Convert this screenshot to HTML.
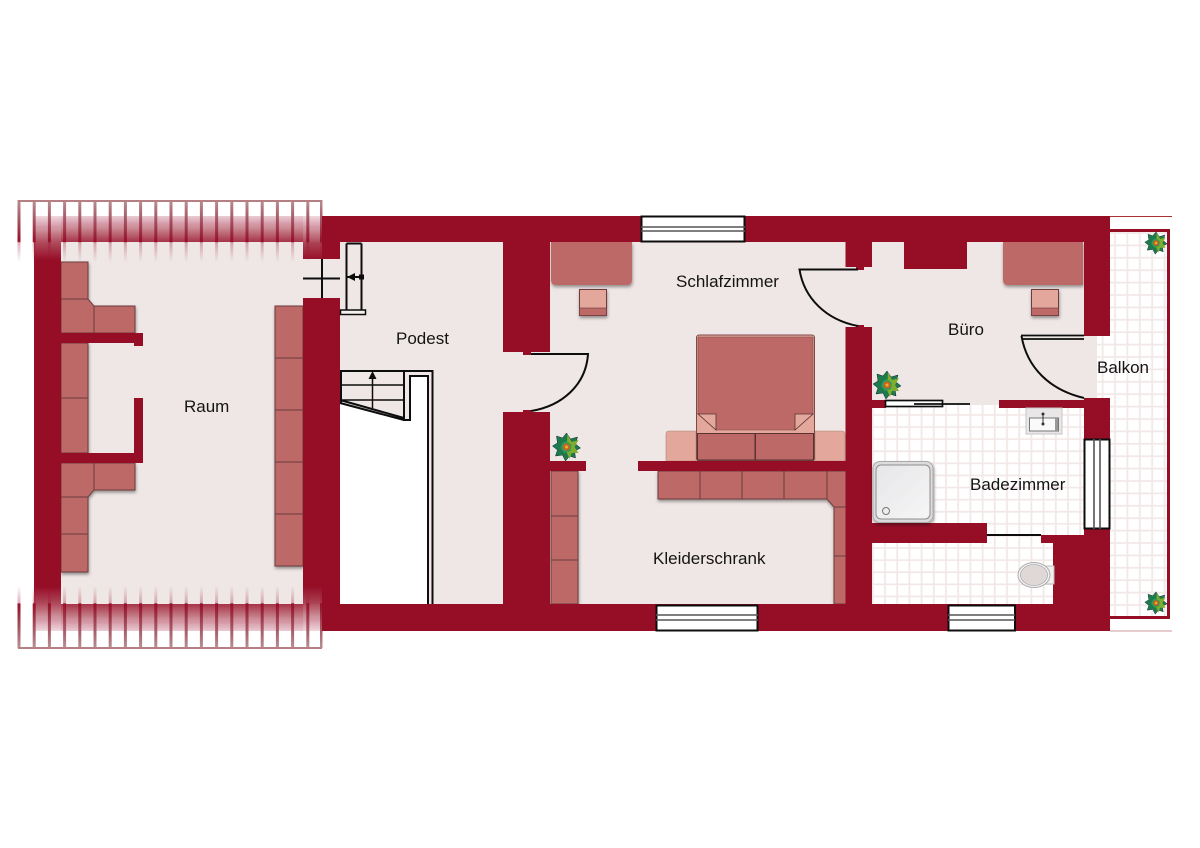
<!DOCTYPE html>
<html><head><meta charset="utf-8"><style>
html,body{margin:0;padding:0;background:#fff}
svg{display:block}
text{font-family:"Liberation Sans",sans-serif;font-size:17px;fill:#141414}
.c{fill:#bc6967;stroke:#6e3a3a;stroke-width:1}
.w{fill:#960f28}
.l{fill:none;stroke:#0c0c0c;stroke-width:2}
.win{fill:#fff;stroke:#0c0c0c;stroke-width:2}
.thin{stroke:#555;stroke-width:1.6;fill:none}
</style></head><body>
<svg width="1200" height="848" viewBox="0 0 1200 848" xmlns="http://www.w3.org/2000/svg">
<defs>
<pattern id="tile" x="0.500" y="-2.500" width="12.2" height="12.1" patternUnits="userSpaceOnUse">
<rect width="12.2" height="12.1" fill="#fff"/>
<path d="M0 6.050H12.2M6.100 0V12.1" stroke="#f2e8e7" stroke-width="1.800"/>
</pattern>
<pattern id="tileb" x="1108.800" y="226.800" width="12.4" height="12.4" patternUnits="userSpaceOnUse">
<rect width="12.4" height="12.4" fill="#fff"/>
<path d="M0 6.200H12.4M6.200 0V12.4" stroke="#f2e8e7" stroke-width="1.800"/>
</pattern>
<linearGradient id="bt" x1="0" y1="0" x2="0" y2="1"><stop offset="0" stop-color="#960f28" stop-opacity=".2"/><stop offset="1" stop-color="#960f28" stop-opacity=".85"/></linearGradient>
<linearGradient id="bb" x1="0" y1="1" x2="0" y2="0"><stop offset="0" stop-color="#960f28" stop-opacity=".2"/><stop offset="1" stop-color="#960f28" stop-opacity=".85"/></linearGradient>
<linearGradient id="ct" gradientUnits="userSpaceOnUse" x1="0" y1="216" x2="0" y2="260"><stop offset="0" stop-color="#960f28" stop-opacity=".15"/><stop offset=".59" stop-color="#960f28" stop-opacity=".75"/><stop offset="1" stop-color="#960f28"/></linearGradient>
<linearGradient id="cb" gradientUnits="userSpaceOnUse" x1="0" y1="631" x2="0" y2="587"><stop offset="0" stop-color="#960f28" stop-opacity=".15"/><stop offset=".61" stop-color="#960f28" stop-opacity=".75"/><stop offset="1" stop-color="#960f28"/></linearGradient>
<linearGradient id="st" gradientUnits="userSpaceOnUse" x1="0" y1="200" x2="0" y2="262"><stop offset="0" stop-color="#b89094"/><stop offset=".26" stop-color="#a8606c"/><stop offset=".67" stop-color="#960f28"/><stop offset=".69" stop-color="#960f28" stop-opacity=".3"/><stop offset="1" stop-color="#960f28" stop-opacity="0"/></linearGradient>
<linearGradient id="sb" gradientUnits="userSpaceOnUse" x1="0" y1="648" x2="0" y2="586"><stop offset="0" stop-color="#b89094"/><stop offset=".26" stop-color="#a8606c"/><stop offset=".71" stop-color="#960f28"/><stop offset=".73" stop-color="#960f28" stop-opacity=".3"/><stop offset="1" stop-color="#960f28" stop-opacity="0"/></linearGradient>
<linearGradient id="sh" x1="0" y1="0" x2="1" y2="1"><stop offset="0" stop-color="#e6e6e8"/><stop offset="1" stop-color="#f6f6f7"/></linearGradient>
<filter id="ds" x="-20%" y="-20%" width="140%" height="140%"><feDropShadow dx="0.5" dy="2" stdDeviation="1.6" flood-color="#000" flood-opacity=".4"/></filter>
<filter id="soft"><feGaussianBlur stdDeviation="0.28"/></filter>
<g id="plant">
<polygon points="0,-14 4,-8 11,-10 9,-3 14,1 8,4 9,11 3,9 -1,14 -4,8 -11,9 -9,3 -14,-1 -9,-4 -10,-11 -4,-9" fill="#1f7a4e" stroke="#123" stroke-width=".5"/>
<polygon points="1,-13 5,-5 12,-7 8,0 12,6 5,6 3,12 0,5" fill="#7fae2e"/>
<polygon points="0,-6 5,-2 4,4 -2,6 -6,1 -4,-4" fill="#2f9a5c"/>
<circle r="3.6" fill="#c8641e"/><circle r="1.5" fill="#e8b030"/>
</g>
</defs>
<rect width="1200" height="848" fill="#fff"/>
<g filter="url(#soft)">
<!-- floor -->
<rect x="61" y="242" width="1036" height="362" fill="#efe7e5"/>
<!-- tile -->
<rect x="1097" y="232" width="70" height="384" fill="url(#tileb)"/>
<rect x="872" y="405" width="212" height="130" fill="url(#tile)"/>
<rect x="872" y="535" width="181" height="69" fill="url(#tile)"/>
<rect x="970" y="400" width="29" height="4" fill="#efe7e5"/>
<!-- balcony frame -->
<path d="M1110 216.500H1172" stroke="#a33" stroke-width="1"/>
<path d="M1110 230.500H1168.500V617.500H1110" fill="none" stroke="#960f28" stroke-width="3"/>
<path d="M1110 631H1172" stroke="#c99" stroke-width="1"/>
<!-- roof fades -->
<rect x="61" y="216" width="242" height="26" fill="url(#bt)"/>
<rect x="61" y="604" width="242" height="27" fill="url(#bb)"/>
<rect x="34" y="216" width="27" height="44" fill="url(#ct)"/>
<rect x="303" y="216" width="19" height="43" fill="url(#ct)"/>
<rect x="34" y="587" width="27" height="44" fill="url(#cb)"/>
<rect x="303" y="587" width="19" height="44" fill="url(#cb)"/>
<!-- strips -->
<g fill="url(#st)">
<rect x="17.500" y="200" width="3" height="62"/><rect x="32.700" y="200" width="3" height="62"/><rect x="47.900" y="200" width="3" height="62"/><rect x="63.100" y="200" width="3" height="62"/><rect x="78.300" y="200" width="3" height="62"/><rect x="93.500" y="200" width="3" height="62"/><rect x="108.700" y="200" width="3" height="62"/><rect x="123.900" y="200" width="3" height="62"/><rect x="139.100" y="200" width="3" height="62"/><rect x="154.300" y="200" width="3" height="62"/><rect x="169.500" y="200" width="3" height="62"/><rect x="184.700" y="200" width="3" height="62"/><rect x="199.900" y="200" width="3" height="62"/><rect x="215.100" y="200" width="3" height="62"/><rect x="230.300" y="200" width="3" height="62"/><rect x="245.500" y="200" width="3" height="62"/><rect x="260.700" y="200" width="3" height="62"/><rect x="275.900" y="200" width="3" height="62"/><rect x="291.100" y="200" width="3" height="62"/><rect x="306.300" y="200" width="3" height="62"/><rect x="320" y="200" width="2.500" height="62"/>
</g>
<g fill="url(#sb)">
<rect x="17.500" y="586" width="3" height="62"/><rect x="32.700" y="586" width="3" height="62"/><rect x="47.900" y="586" width="3" height="62"/><rect x="63.100" y="586" width="3" height="62"/><rect x="78.300" y="586" width="3" height="62"/><rect x="93.500" y="586" width="3" height="62"/><rect x="108.700" y="586" width="3" height="62"/><rect x="123.900" y="586" width="3" height="62"/><rect x="139.100" y="586" width="3" height="62"/><rect x="154.300" y="586" width="3" height="62"/><rect x="169.500" y="586" width="3" height="62"/><rect x="184.700" y="586" width="3" height="62"/><rect x="199.900" y="586" width="3" height="62"/><rect x="215.100" y="586" width="3" height="62"/><rect x="230.300" y="586" width="3" height="62"/><rect x="245.500" y="586" width="3" height="62"/><rect x="260.700" y="586" width="3" height="62"/><rect x="275.900" y="586" width="3" height="62"/><rect x="291.100" y="586" width="3" height="62"/><rect x="306.300" y="586" width="3" height="62"/><rect x="320" y="586" width="2.500" height="62"/>
</g>
<rect x="18" y="200" width="304" height="2" fill="#b67f82"/>
<rect x="18" y="647" width="304" height="2" fill="#b67f82"/>
<!-- cabinets with shadow -->
<g filter="url(#ds)">
<rect class="c" x="61" y="262" width="27" height="37"/>
<polygon class="c" points="61,299 88,299 94,306 94,333 61,333"/>
<rect class="c" x="94" y="306" width="41" height="27"/>
<rect class="c" x="61" y="343" width="27" height="55"/>
<rect class="c" x="61" y="398" width="27" height="55"/>
<polygon class="c" points="61,463 94,463 94,490 88,497 61,497"/>
<rect class="c" x="94" y="463" width="41" height="27"/>
<rect class="c" x="61" y="497" width="27" height="37"/>
<rect class="c" x="61" y="534" width="27" height="38"/>
<rect class="c" x="275" y="306" width="28" height="52"/>
<rect class="c" x="275" y="358" width="28" height="52"/>
<rect class="c" x="275" y="410" width="28" height="52"/>
<rect class="c" x="275" y="462" width="28" height="52"/>
<rect class="c" x="275" y="514" width="28" height="52"/>
<rect class="c" x="551" y="471" width="27" height="45"/>
<rect class="c" x="551" y="516" width="27" height="44"/>
<rect class="c" x="551" y="560" width="27" height="44"/>
<rect class="c" x="658" y="471" width="42" height="28"/>
<rect class="c" x="700" y="471" width="42" height="28"/>
<rect class="c" x="742" y="471" width="42" height="28"/>
<rect class="c" x="784" y="471" width="43" height="28"/>
<polygon class="c" points="827,471 862,471 862,507 834,507 827,499"/>
<rect class="c" x="834" y="507" width="28" height="49"/>
<rect class="c" x="834" y="556" width="28" height="48"/>
<path d="M551 242H632V280Q632 285 627 285H556Q551 285 551 280Z" fill="#bc6967"/>
<path d="M1003 242H1083V285H1008Q1003 285 1003 280Z" fill="#bc6967"/>
<rect x="579.500" y="289.500" width="27" height="26" fill="#e3a79c" stroke="#6e3a3a"/>
<rect x="579.500" y="308" width="27" height="7.500" fill="#bc6967" stroke="#6e3a3a" stroke-width=".6"/>
<rect x="1031.500" y="289.500" width="27" height="26" fill="#e3a79c" stroke="#6e3a3a"/>
<rect x="1031.500" y="308" width="27" height="7.500" fill="#bc6967" stroke="#6e3a3a" stroke-width=".6"/>
</g>
<!-- bed -->
<path d="M666 461V434Q666 431 669 431H696V461Z" fill="#e3a79c" stroke="#a87" stroke-width=".6"/>
<path d="M845 461V434Q845 431 842 431H815V461Z" fill="#e3a79c" stroke="#a87" stroke-width=".6"/>
<rect x="696.500" y="335" width="118" height="126" rx="2.500" fill="#e3a79c" stroke="#7b4a46"/>
<polygon points="698,337 813,337 813,414 795,430 716,430 698,414" fill="#bc6967" stroke="#7b4a46" stroke-width=".6"/>
<polygon points="698,414 716,414 716,430" fill="#e3a79c" stroke="#5a3330" stroke-width=".8"/>
<polygon points="813,414 795,414 795,430" fill="#e3a79c" stroke="#5a3330" stroke-width=".8"/>
<rect x="697.500" y="433.500" width="57.500" height="26.500" fill="#bc6967" stroke="#5a3330"/>
<rect x="755.500" y="433.500" width="58" height="26.500" fill="#bc6967" stroke="#5a3330"/>
<!-- walls -->
<g class="w">
<rect x="322" y="216" width="788" height="26"/>
<rect x="322" y="604" width="788" height="27"/>
<rect x="34" y="260" width="27" height="327"/>
<rect x="322" y="242" width="18" height="17"/>
<rect x="303" y="298" width="37" height="289"/>
<rect x="322" y="587" width="18" height="17"/>
<rect x="61" y="333" width="73" height="10"/>
<rect x="134" y="333" width="9" height="13"/>
<rect x="134" y="398" width="9" height="65"/>
<rect x="61" y="453" width="73" height="10"/>
<rect x="503" y="242" width="47" height="110"/>
<rect x="523" y="352" width="8" height="3"/>
<rect x="503" y="412" width="47" height="192"/>
<rect x="523" y="410" width="8" height="2"/>
<rect x="550" y="461" width="36" height="10"/>
<rect x="638" y="461" width="208" height="10"/>
<rect x="845.500" y="242" width="26.500" height="25"/>
<rect x="856" y="267" width="8" height="3"/>
<rect x="845.500" y="327" width="26.500" height="277"/>
<rect x="856" y="325" width="8" height="2"/>
<rect x="904" y="242" width="63" height="27"/>
<rect x="1084" y="216" width="26" height="120"/>
<rect x="872" y="400" width="14" height="8"/>
<rect x="999" y="400" width="85" height="8"/>
<rect x="1084" y="398" width="26" height="41"/>
<rect x="872" y="523" width="115" height="20"/>
<rect x="1041" y="535" width="43" height="8"/>
<polygon points="1084,529 1110,529 1110,631 1053,631 1053,535 1084,535"/>
</g>
<!-- windows -->
<rect class="win" x="641.500" y="216.500" width="103" height="25"/>
<path class="thin" d="M641 227H745M641 231H745"/>
<rect class="win" x="656.500" y="605.500" width="101" height="25"/>
<path class="thin" d="M656 615H758M656 620H758"/>
<rect class="win" x="948.500" y="605.500" width="66.500" height="25"/>
<path class="thin" d="M948 615H1015M948 620H1015"/>
<rect class="win" x="1084.500" y="439.500" width="25" height="89"/>
<path class="thin" d="M1094 439V529M1100 439V529"/>
<!-- attic hatch and cross -->
<path class="l" d="M322 259V298M303 278.500H340"/>
<path class="l" d="M346.500 243.500V310M361.500 243.500V310M346.500 243.500H361.500"/>
<rect x="340.500" y="310" width="25" height="4.500" fill="#f6f1ef" stroke="#0c0c0c" stroke-width="1.500"/>
<path d="M347 277H361" stroke="#0c0c0c" stroke-width="2"/>
<polygon points="347,277 355,273 355,281" fill="#0c0c0c"/>
<rect x="359" y="274.500" width="5" height="5" fill="#0c0c0c"/>
<!-- stairs -->
<polygon points="340,403 404,420 410,420 410,376 428,376 428,604 340,604" fill="#fff"/>
<path class="l" d="M341 403V371H432.500V604"/>
<path class="l" d="M428 604V376H410V420H404V371"/>
<path class="l" d="M340 400L404 418M340 403L404 420"/>
<path class="l" d="M341 385H404M341 400H404" style="stroke-width:1.5"/>
<path d="M372.500 408V378" stroke="#0c0c0c" stroke-width="1.500"/>
<polygon points="372.500,371 368.500,379 376.500,379" fill="#0c0c0c"/>
<!-- doors -->
<path class="l" d="M531 354H588C586 385 562 406 531 411"/>
<path class="l" d="M858 269.500H799.500C804 298 826 320 858 326"/>
<path d="M1021 335.500H1084M1022 339H1084" stroke="#0c0c0c" stroke-width="1.800" fill="none"/>
<path class="l" d="M1021.500 336C1027 368 1050 390 1084 398"/>
<path class="l" d="M987 535H1041"/>
<!-- sliding door Büro/Bad -->
<rect x="885.500" y="400.500" width="57" height="6" fill="#fff" stroke="#0c0c0c" stroke-width="1.700"/>
<path d="M914 404H970" stroke="#0c0c0c" stroke-width="1.800"/>
<!-- sink -->
<rect x="1026" y="408" width="36" height="26" fill="#e9e7e7" stroke="#c8c4c4"/>
<rect x="1029.500" y="418" width="29" height="13" fill="#fafafa" stroke="#777"/>
<rect x="1055" y="418" width="3" height="13" fill="#999"/>
<circle cx="1043" cy="414" r="1.500" fill="#333"/><circle cx="1043" cy="424" r="1.500" fill="#333"/>
<path d="M1043 414V424" stroke="#333"/>
<!-- shower -->
<rect x="873" y="461.500" width="60" height="61" rx="7" fill="#dcdcdc" stroke="#aaa" filter="url(#ds)"/>
<rect x="876" y="465" width="54" height="54" rx="5" fill="url(#sh)" stroke="#8e8e8e"/>
<circle cx="886" cy="511" r="3.500" fill="#eee" stroke="#777"/>
<!-- toilet -->
<rect x="1046" y="566" width="8" height="18" fill="#f2efee" stroke="#bbb"/>
<ellipse cx="1034" cy="575" rx="16" ry="12.500" fill="#f3f1f1" stroke="#aaa"/>
<ellipse cx="1034" cy="575" rx="13.500" ry="10.500" fill="#dfd8d6" stroke="#999" stroke-width=".6"/>
<!-- plants -->
<use href="#plant" transform="translate(566.500,447)"/>
<use href="#plant" transform="translate(887,385)"/>
<use href="#plant" transform="translate(1156,243) scale(.8)"/>
<use href="#plant" transform="translate(1156,603) scale(.8)"/>
</g>
<!-- labels -->
<text x="184" y="412">Raum</text>
<text x="396" y="344">Podest</text>
<text x="676" y="287">Schlafzimmer</text>
<text x="653" y="564">Kleiderschrank</text>
<text x="948" y="335">Büro</text>
<text x="1097" y="373">Balkon</text>
<text x="970" y="490">Badezimmer</text>
</svg>
</body></html>
